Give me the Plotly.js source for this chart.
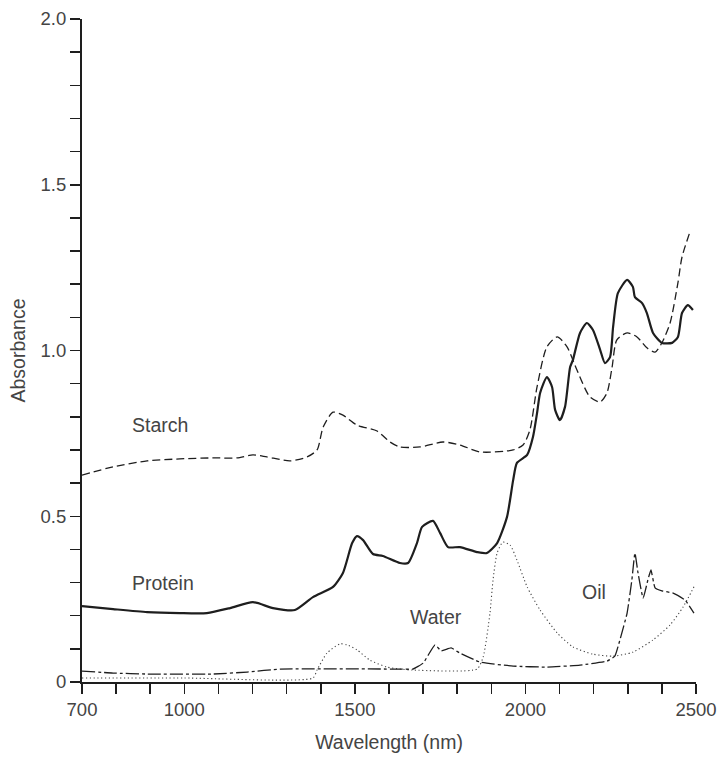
<!DOCTYPE html>
<html>
<head>
<meta charset="utf-8">
<script src="https://cdn.plot.ly/plotly-3.0.1.min.js"></script>
<style>html,body{margin:0;padding:0;background:#fff;}#chart{width:719px;height:758px;}</style>
</head>
<body>
<div id="chart"></div>
<script>
// Wavelength (nm) / absorbance readings
const starchX = [700, 791, 891, 987, 1084, 1154, 1201, 1242, 1310, 1360, 1389, 1407, 1436, 1465, 1506, 1565, 1603, 1632, 1691, 1758, 1808, 1867, 1964, 1993, 2013, 2034, 2063, 2093, 2122, 2151, 2189, 2219, 2239, 2254, 2268, 2298, 2327, 2356, 2380, 2400, 2424, 2447, 2459, 2482];
const starchY = [0.624, 0.649, 0.667, 0.673, 0.676, 0.676, 0.685, 0.679, 0.667, 0.679, 0.700, 0.769, 0.814, 0.805, 0.775, 0.757, 0.724, 0.709, 0.709, 0.724, 0.715, 0.694, 0.700, 0.715, 0.760, 0.890, 1.011, 1.041, 1.011, 0.941, 0.860, 0.845, 0.872, 0.950, 1.032, 1.053, 1.041, 1.008, 0.995, 1.023, 1.083, 1.204, 1.282, 1.357];

const proteinX = [700, 791, 891, 987, 1066, 1134, 1201, 1260, 1324, 1377, 1436, 1465, 1492, 1506, 1524, 1553, 1582, 1632, 1656, 1682, 1697, 1729, 1750, 1773, 1808, 1858, 1887, 1917, 1946, 1964, 1975, 2005, 2022, 2034, 2043, 2063, 2078, 2087, 2101, 2116, 2131, 2139, 2160, 2180, 2198, 2219, 2233, 2248, 2257, 2271, 2298, 2315, 2321, 2342, 2356, 2374, 2400, 2430, 2447, 2459, 2476, 2491];
const proteinY = [0.229, 0.220, 0.211, 0.208, 0.208, 0.223, 0.241, 0.223, 0.217, 0.256, 0.287, 0.329, 0.419, 0.440, 0.428, 0.386, 0.380, 0.359, 0.359, 0.419, 0.468, 0.486, 0.449, 0.407, 0.407, 0.392, 0.389, 0.419, 0.498, 0.609, 0.661, 0.685, 0.739, 0.811, 0.872, 0.920, 0.890, 0.821, 0.790, 0.830, 0.950, 0.971, 1.053, 1.083, 1.062, 1.002, 0.962, 0.980, 1.071, 1.173, 1.213, 1.192, 1.161, 1.143, 1.113, 1.053, 1.023, 1.023, 1.041, 1.113, 1.137, 1.122];

const waterX = [700, 1000, 1377, 1389, 1418, 1456, 1477, 1506, 1544, 1594, 1632, 1670, 1858, 1876, 1896, 1905, 1917, 1934, 1955, 1975, 2005, 2043, 2093, 2139, 2198, 2257, 2315, 2374, 2424, 2462, 2497];
const waterY = [0.012, 0.012, 0.012, 0.036, 0.087, 0.115, 0.112, 0.097, 0.066, 0.045, 0.039, 0.036, 0.039, 0.075, 0.208, 0.308, 0.389, 0.422, 0.413, 0.368, 0.287, 0.217, 0.148, 0.106, 0.084, 0.078, 0.090, 0.127, 0.172, 0.226, 0.293];

const oilX = [700, 791, 891, 1084, 1184, 1281, 1632, 1670, 1700, 1735, 1753, 1782, 1808, 1867, 1964, 2063, 2160, 2239, 2262, 2277, 2298, 2312, 2321, 2330, 2345, 2359, 2368, 2380, 2400, 2433, 2468, 2494];
const oilY = [0.033, 0.027, 0.024, 0.024, 0.030, 0.039, 0.039, 0.039, 0.057, 0.112, 0.094, 0.103, 0.087, 0.060, 0.048, 0.045, 0.051, 0.063, 0.078, 0.127, 0.208, 0.308, 0.389, 0.329, 0.253, 0.308, 0.338, 0.284, 0.275, 0.268, 0.247, 0.208];

// Axis ticks
const xTickVals = [700, 800, 900, 1000, 1100, 1200, 1300, 1400, 1500, 1600, 1700, 1800, 1900, 2000, 2100, 2200, 2300, 2400, 2500];
const xTickText = ["700", "", "", "1000", "", "", "", "", "1500", "", "", "", "", "2000", "", "", "", "", "2500"];
const yTickVals = [0, 0.1, 0.2, 0.3, 0.4, 0.5, 0.6, 0.7, 0.8, 0.9, 1.0, 1.1, 1.2, 1.3, 1.4, 1.5, 1.6, 1.7, 1.8, 1.9, 2.0];
const yTickText = ["0", "", "", "", "", "0.5", "", "", "", "", "1.0", "", "", "", "", "1.5", "", "", "", "", "2.0"];

// Series labels
const labels = ["Starch", "Protein", "Water", "Oil"];
const labelX = [841, 841, 1656, 2160];
const labelY = [0.775, 0.299, 0.196, 0.271];

const ink = '#1e1e1e';
const textColor = '#444444';
const fontFam = '"Liberation Sans", Arial, Helvetica, sans-serif';

const traces = [
  {x: starchX, y: starchY, mode: 'lines', line: {color: ink, width: 1.3, dash: '8px,4px', shape: 'spline', smoothing: 0.7}, name: 'Starch'},
  {x: proteinX, y: proteinY, mode: 'lines', line: {color: ink, width: 2.2, shape: 'spline', smoothing: 0.6}, name: 'Protein'},
  {x: waterX, y: waterY, mode: 'lines', line: {color: '#444', width: 1.1, dash: '1.2px,2.6px', shape: 'spline', smoothing: 0.6}, name: 'Water'},
  {x: oilX, y: oilY, mode: 'lines', line: {color: ink, width: 1.3, dash: '13px,3px,3px,3px', shape: 'spline', smoothing: 0.4}, name: 'Oil'}
];

const annotations = labels.map((t, i) => ({
  x: labelX[i], y: labelY[i], xref: 'x', yref: 'y', text: t, showarrow: false,
  xanchor: 'left', yanchor: 'middle', font: {family: fontFam, size: 19.5, color: textColor}
}));

const layout = {
  width: 719, height: 758,
  margin: {l: 82, r: 23, t: 19, b: 76},
  paper_bgcolor: '#fff', plot_bgcolor: '#fff',
  showlegend: false,
  font: {family: fontFam, size: 19, color: textColor},
  xaxis: {
    range: [700, 2500], tickmode: 'array', tickvals: xTickVals, ticktext: xTickText,
    ticks: 'outside', ticklen: 10, tickwidth: 1.5, tickcolor: ink,
    showline: true, linecolor: ink, linewidth: 2, showgrid: false, zeroline: false,
    tickfont: {family: fontFam, size: 18.5, color: textColor},
    title: {text: 'Wavelength (nm)', font: {family: fontFam, size: 19.5, color: textColor}, standoff: 16}
  },
  yaxis: {
    range: [0, 2.0], tickmode: 'array', tickvals: yTickVals, ticktext: yTickText,
    ticks: 'outside', ticklen: 10, tickwidth: 1.5, tickcolor: ink,
    showline: true, linecolor: ink, linewidth: 2, showgrid: false, zeroline: false,
    tickfont: {family: fontFam, size: 18.5, color: textColor},
    title: {text: 'Absorbance', font: {family: fontFam, size: 19.5, color: textColor}, standoff: 10}
  },
  annotations: annotations
};

Plotly.newPlot('chart', traces, layout, {staticPlot: true, displayModeBar: false});
</script>
</body>
</html>
